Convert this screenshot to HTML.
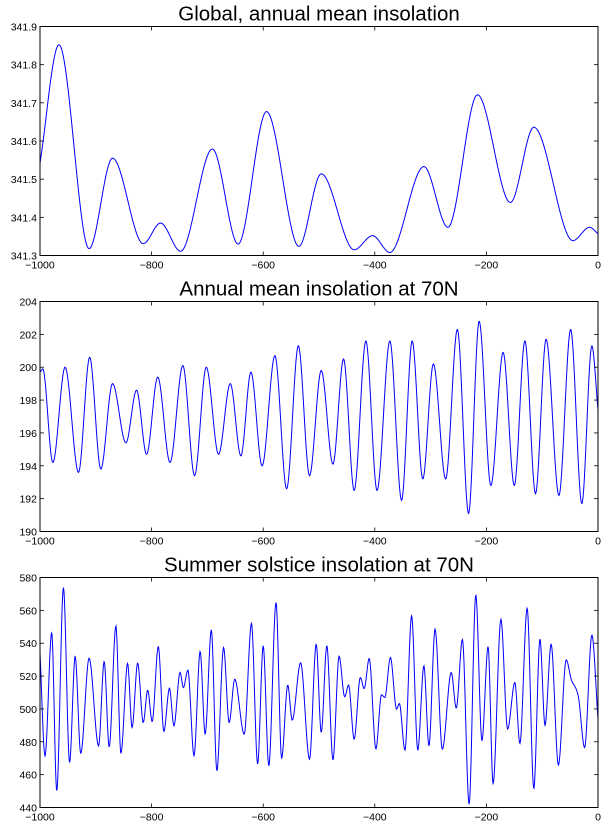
<!DOCTYPE html>
<html><head><meta charset="utf-8"><style>
html,body{margin:0;padding:0;background:#fff;}
svg{display:block;font-family:"Liberation Sans",sans-serif;}
</style></head><body>
<svg id="fig" width="608" height="828" viewBox="0 0 608 828"></svg>
<script>
// Panel 1: global annual mean insolation (extrema)
const p1Years=[-1000,-966,-912,-870,-815,-784,-748,-691,-645,-594,-536,-496,-437,-404,-373,-312,-269,-216,-157,-115,-45,-15,0];
const p1Values=[341.542,341.852,341.318,341.555,341.331,341.385,341.311,341.579,341.330,341.677,341.324,341.514,341.315,341.352,341.308,341.533,341.374,341.721,341.439,341.636,341.339,341.374,341.357];
const p1Ticks=["341.3","341.4","341.5","341.6","341.7","341.8","341.9"];
// Panel 2: annual mean insolation at 70N
const p2Years=[-1000,-995,-977,-955,-931,-911,-891,-870,-846,-827,-809,-789,-767,-744,-723,-702,-680,-659,-640,-622,-602,-579,-558,-537,-517,-496,-475,-456,-437,-416,-396,-373,-352,-333,-314,-295,-273,-252,-232,-213,-192,-170,-150,-131,-112,-93,-70,-49,-29,-11,0];
const p2Values=[199.7,199.9,194.2,200.0,193.6,200.6,193.8,199.0,195.4,198.6,194.7,199.4,194.2,200.1,193.4,200.0,194.7,199.0,194.6,199.7,194.0,200.7,192.6,201.3,193.4,199.8,194.1,200.5,192.5,201.6,192.5,201.6,191.9,201.6,193.2,200.2,193.2,202.3,191.1,202.8,192.8,200.9,192.8,201.6,192.3,201.7,192.2,202.3,191.7,201.3,197.4];
const p2Ticks=["190","192","194","196","198","200","202","204"];
// Panel 3: summer solstice insolation at 70N
const p3Years=[-1000,-991,-979,-970,-958,-947,-937,-927,-912,-895,-885,-876,-864,-855,-843,-835,-825,-815,-807,-799,-788,-778,-768,-760,-749,-743,-735,-724,-713,-704,-693,-683,-671,-661,-651,-634,-621,-610,-600,-590,-577,-567,-556,-548,-533,-517,-505,-496,-486,-475,-464,-454,-447,-437,-426,-419,-410,-398,-388,-382,-372,-361,-356,-346,-334,-323,-312,-303,-292,-279,-263,-254,-243,-231,-219,-208,-197,-188,-174,-162,-149,-140,-127,-115,-104,-95,-84,-71,-57,-48,-35,-24,-11,0];
const p3Values=[534,471.4,546.5,450.1,573.9,467.4,531.9,472.9,530.9,477.5,528.9,476.9,550.6,472.9,527.7,488.7,527.9,491.7,511.4,492.3,538.0,486.3,512.6,489.7,522.2,513.0,523.6,471.5,535.0,484.6,548.1,462.3,537.4,491.7,518.1,484.6,552.0,466.4,538.4,465.4,564.8,470.0,514.5,493.2,528.1,469.4,539.4,485.7,538.4,469.0,532.1,507.4,514.5,481.6,519.1,512.4,530.7,475.7,508.6,507.0,531.3,499.9,503.3,474.9,556.7,474.9,526.2,477.5,548.6,475.5,522.2,500.5,542.3,442.0,569.4,480.6,538.0,454.6,554.6,487.7,516.1,479.0,561.3,451.6,542.5,490.1,539.4,465.8,529.9,518.1,507.0,476.5,544.9,493.8];
const p3Ticks=["440","460","480","500","520","540","560","580"];
const xTicks=["\u22121000","\u2212800","\u2212600","\u2212400","\u2212200","0"];

const NS="http://www.w3.org/2000/svg";
const svg=document.getElementById('fig');
function mk(tag,attrs,parent){const e=document.createElementNS(NS,tag);for(const k in attrs)e.setAttribute(k,attrs[k]);(parent||svg).appendChild(e);return e;}

function monotone(xs,ys){
  const n=xs.length,d=[],m=new Array(n);
  for(let i=0;i<n-1;i++)d.push((ys[i+1]-ys[i])/(xs[i+1]-xs[i]));
  m[0]=d[0];m[n-1]=d[n-2];
  for(let i=1;i<n-1;i++){m[i]=(d[i-1]*d[i]<=0)?0:(d[i-1]+d[i])/2;}
  for(let i=0;i<n-1;i++){if(d[i]===0){m[i]=0;m[i+1]=0;continue;}const a=m[i]/d[i],b=m[i+1]/d[i],s=a*a+b*b;if(s>9){const t=3/Math.sqrt(s);m[i]=t*a*d[i];m[i+1]=t*b*d[i];}}
  return function(x){let i=0;while(i<n-2&&x>xs[i+1])i++;const h=xs[i+1]-xs[i],t=(x-xs[i])/h,t2=t*t,t3=t2*t;
    return (2*t3-3*t2+1)*ys[i]+(t3-2*t2+t)*h*m[i]+(-2*t3+3*t2)*ys[i+1]+(t3-t2)*h*m[i+1];};
}

const X0=40,X1=598;
function panel(name,title,top,bot,yMin,yMax,years,values,yTicks){
  const g=mk('g',{});
  
  
  const ys=v=>bot-(v-yMin)/(yMax-yMin)*(bot-top);
  const t=mk('text',{x:(X0+X1)/2,y:top-6,'text-anchor':'middle','font-size':'20.5',fill:'#000'},g);
  t.textContent=title;
  
  
  const f=monotone(years,values);
  let d='';
  for(let px=0;px<=(X1-X0)*2;px++){const yr=-1000+px/((X1-X0)*2)*1000;d+=(px?'L':'M')+(X0+px/2).toFixed(2)+','+ys(f(yr)).toFixed(2);}
  const cp=mk('clipPath',{id:'c'+name},g);mk('rect',{x:X0,y:top,width:X1-X0,height:bot-top},cp);
  const line=mk('path',{d:d,fill:'none',stroke:'#0000ff','stroke-width':'1','clip-path':'url(#c'+name+')'},g);
  
  
  xTicks.forEach((lab,i)=>{const x=X0+i*(X1-X0)/5;
    mk('line',{x1:x,x2:x,y1:bot,y2:bot-4,stroke:'#000','stroke-width':'0.8'},g);
    mk('line',{x1:x,x2:x,y1:top,y2:top+4,stroke:'#000','stroke-width':'0.8'},g);
    const tx=mk('text',{x:x,y:bot+13,'text-anchor':'middle','font-size':'10.5',fill:'#000'},g);tx.textContent=lab;
    
    });
  yTicks.forEach((lab,i)=>{const y=bot-i*(bot-top)/(yTicks.length-1);
    mk('line',{x1:X0,x2:X0+4,y1:y,y2:y,stroke:'#000','stroke-width':'0.8'},g);
    mk('line',{x1:X1,x2:X1-4,y1:y,y2:y,stroke:'#000','stroke-width':'0.8'},g);
    const tx=mk('text',{x:X0-3,y:y+4,'text-anchor':'end','font-size':'10.5',fill:'#000'},g);tx.textContent=lab;
    
    });
  const fr=mk('rect',{x:X0,y:top,width:X1-X0,height:bot-top,fill:'none',stroke:'#000','stroke-width':'1'},g);
  
  
}
panel('global-panel','Global, annual mean insolation',26.5,255.5,341.3,341.9,p1Years,p1Values,p1Ticks);
panel('annual-70n-panel','Annual mean insolation at 70N',301.5,531.5,190,204,p2Years,p2Values,p2Ticks);
panel('solstice-70n-panel','Summer solstice insolation at 70N',577.5,807.5,440,580,p3Years,p3Values,p3Ticks);
</script>
</body></html>
